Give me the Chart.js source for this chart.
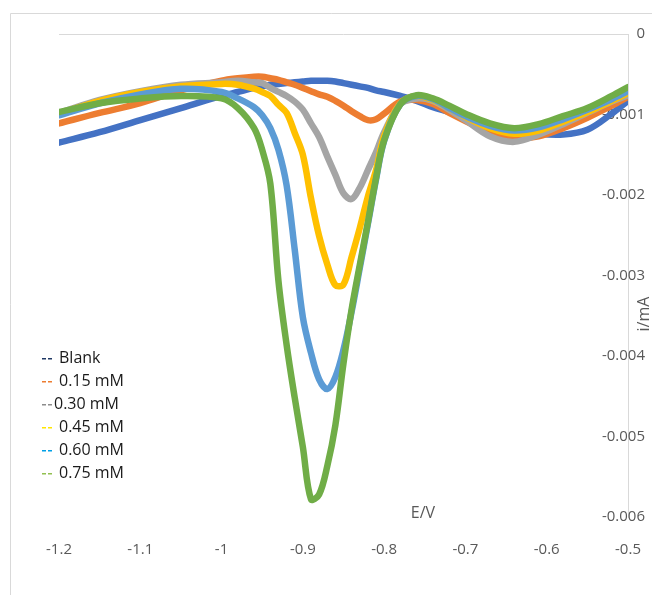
<!DOCTYPE html>
<html>
<head>
<meta charset="utf-8">
<script src="https://cdn.jsdelivr.net/npm/chart.js@4.4.1/dist/chart.umd.min.js"></script>
<style>
  html, body { margin: 0; padding: 0; background: #fff; }
  #wrap { width: 652px; height: 595px; }
</style>
</head>
<body>
<div id="wrap"><canvas id="voltChart" width="652" height="595"></canvas></div>
<script>
// Potential (E/V) shared by every curve
const ePotential = [-1.2, -1.15, -1.1, -1.05, -1.0, -0.98, -0.96, -0.95, -0.94, -0.93, -0.92, -0.91, -0.90, -0.89, -0.88, -0.87, -0.86, -0.85, -0.84, -0.83, -0.82, -0.81, -0.80, -0.78, -0.76, -0.74, -0.72, -0.70, -0.67, -0.64, -0.61, -0.58, -0.55, -0.52, -0.50];

// Current (i/mA) for each concentration
const blank = [-0.00135, -0.00122, -0.00107, -0.00092, -0.00077, -0.00072, -0.00067, -0.00065, -0.00063, -0.00062, -0.00061, -0.00060, -0.00059, -0.00058, -0.00058, -0.00058, -0.00059, -0.00061, -0.00063, -0.00065, -0.00067, -0.00070, -0.00072, -0.00077, -0.00083, -0.00091, -0.00097, -0.00104, -0.00113, -0.00119, -0.00124, -0.00125, -0.00119, -0.00099, -0.00083];
const c015 = [-0.00111, -0.00098, -0.00086, -0.00070, -0.00058, -0.00055, -0.00053, -0.00053, -0.00055, -0.00057, -0.00060, -0.00063, -0.00067, -0.00071, -0.00075, -0.00078, -0.00083, -0.00089, -0.00096, -0.00102, -0.00107, -0.00106, -0.00099, -0.00084, -0.00082, -0.00087, -0.00098, -0.00108, -0.00122, -0.00129, -0.00127, -0.00117, -0.00104, -0.00089, -0.00078];
const c030 = [-0.00098, -0.00082, -0.00071, -0.00063, -0.00060, -0.00058, -0.00060, -0.00061, -0.00067, -0.00072, -0.00077, -0.00084, -0.00094, -0.00111, -0.00128, -0.00152, -0.00175, -0.00198, -0.00205, -0.00191, -0.00169, -0.00147, -0.00122, -0.00087, -0.00080, -0.00083, -0.00094, -0.00107, -0.00127, -0.00134, -0.00125, -0.00112, -0.00098, -0.00084, -0.00076];
const c045 = [-0.00099, -0.00083, -0.00072, -0.00065, -0.00062, -0.00063, -0.00068, -0.00072, -0.00077, -0.00088, -0.00098, -0.00123, -0.00150, -0.00204, -0.00251, -0.00286, -0.00312, -0.00311, -0.00277, -0.00241, -0.00202, -0.00169, -0.00127, -0.00086, -0.00077, -0.00082, -0.00092, -0.00103, -0.00117, -0.00124, -0.00120, -0.00109, -0.00097, -0.00083, -0.00073];
const c060 = [-0.00101, -0.00086, -0.00075, -0.00068, -0.00072, -0.00080, -0.00091, -0.00101, -0.00117, -0.00144, -0.00188, -0.00268, -0.00352, -0.00396, -0.00429, -0.00441, -0.00426, -0.00392, -0.00345, -0.00291, -0.00236, -0.00181, -0.00133, -0.00087, -0.00077, -0.00081, -0.00092, -0.00102, -0.00114, -0.00120, -0.00116, -0.00106, -0.00094, -0.00081, -0.00071];
const c075 = [-0.00097, -0.00086, -0.00080, -0.00077, -0.00080, -0.00092, -0.00117, -0.00144, -0.00186, -0.00307, -0.00386, -0.00452, -0.00513, -0.00578, -0.00572, -0.00537, -0.00486, -0.00409, -0.00342, -0.00287, -0.00234, -0.00179, -0.00132, -0.00087, -0.00076, -0.00080, -0.00089, -0.00099, -0.00111, -0.00117, -0.00112, -0.00102, -0.00092, -0.00077, -0.00066];

const seriesLabels = ['Blank', '0.15 mM', '0.30 mM', '0.45 mM', '0.60 mM', '0.75 mM'];
const seriesValues = [blank, c015, c030, c045, c060, c075];
const seriesColors = ['#4472C4', '#ED7D31', '#A5A5A5', '#FFC000', '#5B9BD5', '#70AD47'];
const legendMarkColors = ['#1F3864', '#ED7D31', '#8C8C8C', '#FFE600', '#00A0E6', '#92C050'];

const xTicks = [-1.2, -1.1, -1.0, -0.9, -0.8, -0.7, -0.6, -0.5];
const yTicks = [0, -0.001, -0.002, -0.003, -0.004, -0.005, -0.006];

const FONT = "'Open Sans', 'Liberation Sans', sans-serif";

// legend, axis titles and the outer frame, drawn on top of the chart
const extrasPlugin = {
    id: 'extras',
    afterDraw: function(chart) {
        const ctx = chart.ctx;
        ctx.save();
        // outer frame (only left and top edges are visible)
        ctx.strokeStyle = '#d9d9d9';
        ctx.lineWidth = 1;
        ctx.beginPath();
        ctx.moveTo(10.5, 595);
        ctx.lineTo(10.5, 13.5);
        ctx.lineTo(652, 13.5);
        ctx.stroke();

        // legend: two little dashes and the label
        ctx.font = '16px ' + FONT;
        ctx.textBaseline = 'middle';
        ctx.textAlign = 'left';
        seriesLabels.forEach(function(label, i) {
            const y = 358 + i * 23;
            ctx.fillStyle = legendMarkColors[i];
            ctx.fillRect(42, y, 4, 1.5);
            ctx.fillRect(48, y, 4, 1.5);
            ctx.fillStyle = '#1a1a1a';
            ctx.fillText(label, i === 2 ? 54 : 59, y);
        });

        // axis titles
        ctx.fillStyle = '#595959';
        ctx.font = '16px ' + FONT;
        ctx.textAlign = 'center';
        ctx.fillText('E/V', 423, 513);
        ctx.translate(644, 314);
        ctx.rotate(-Math.PI / 2);
        ctx.fillText('i/mA', 0, 0);
        ctx.restore();
    }
};

document.addEventListener('DOMContentLoaded', function() {
    const datasets = seriesLabels.map(function(label, i) {
        return {
            label: label,
            data: ePotential.map(function(e, j) { return { x: e, y: seriesValues[i][j] }; }),
            borderColor: seriesColors[i],
            backgroundColor: seriesColors[i],
            borderWidth: 6.5,
            borderCapStyle: 'round',
            borderJoinStyle: 'round',
            pointRadius: 0,
            tension: 0.35,
            fill: false,
            order: seriesLabels.length - i
        };
    });

    const ctx = document.getElementById('voltChart').getContext('2d');
    new Chart(ctx, {
        type: 'line',
        data: { datasets: datasets },
        options: {
            responsive: false,
            animation: false,
            devicePixelRatio: 1,
            layout: { padding: { left: 59, top: 34, right: 0, bottom: 0 } },
            plugins: {
                legend: { display: false },
                tooltip: { enabled: false }
            },
            scales: {
                x: {
                    type: 'linear',
                    position: 'bottom',
                    min: -1.2,
                    max: -0.5,
                    afterFit: function(scale) {
                        scale.height = 78;
                        scale.paddingLeft = 0;
                        scale.paddingRight = 0;
                    },
                    afterBuildTicks: function(scale) {
                        scale.ticks = xTicks.map(function(v) { return { value: v }; });
                    },
                    grid: { display: false },
                    border: { display: false },
                    ticks: {
                        padding: 16,
                        color: '#595959',
                        font: { family: FONT, size: 15 },
                        maxRotation: 0,
                        autoSkip: false,
                        callback: function(v) { return String(parseFloat(v.toFixed(1))); }
                    }
                },
                y: {
                    type: 'linear',
                    position: 'right',
                    min: -0.006,
                    max: 0,
                    afterFit: function(scale) {
                        scale.width = 24;
                        scale.paddingTop = 0;
                        scale.paddingBottom = 0;
                    },
                    afterBuildTicks: function(scale) {
                        scale.ticks = yTicks.map(function(v) { return { value: v }; });
                    },
                    grid: {
                        drawTicks: false,
                        color: function(c) { return c.tick && c.tick.value === 0 ? '#d9d9d9' : 'rgba(0,0,0,0)'; },
                        lineWidth: 1
                    },
                    border: { display: true, color: '#d9d9d9', width: 1 },
                    ticks: {
                        mirror: true,
                        padding: 17,
                        color: '#595959',
                        font: { family: FONT, size: 15 },
                        callback: function(v) { return v === 0 ? '0' : v.toFixed(3); }
                    }
                }
            }
        },
        plugins: [extrasPlugin]
    });
});
</script>
</body>
</html>
